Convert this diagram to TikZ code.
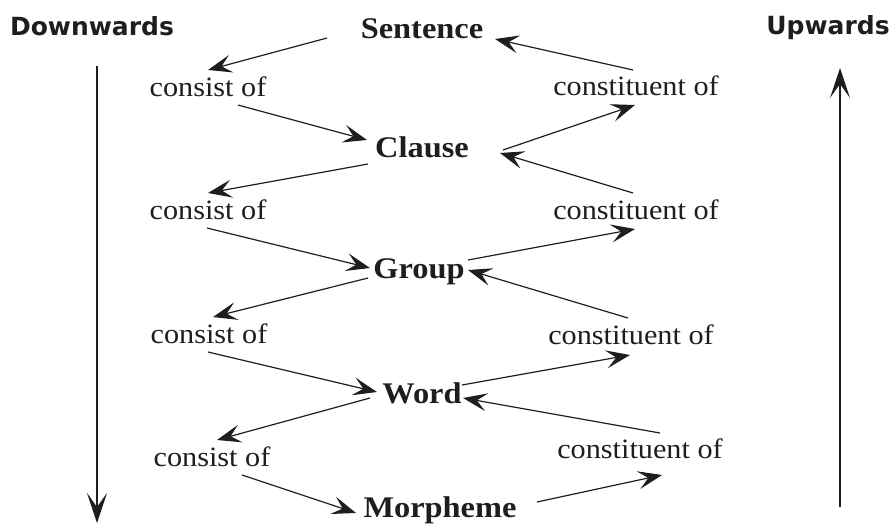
\documentclass[tikz,border=0pt]{standalone}
\usepackage{fontspec}
\usetikzlibrary{arrows.meta}
\newfontfamily\lvlfont[FakeStretch=1.08]{Liberation Serif}
\newfontfamily\dirfont{DejaVu Sans}
\definecolor{ink}{HTML}{1E1E1E}
\tikzset{
  lvl/.style={font=\lvlfont\bfseries\fontsize{30}{36}\selectfont, inner sep=0pt, anchor=base, text=ink},
  rel/.style={font=\lvlfont\fontsize{28}{34}\selectfont, inner sep=0pt, anchor=base, text=ink},
  dirlbl/.style={font=\dirfont\bfseries\fontsize{25}{30}\selectfont, inner sep=0pt, anchor=base, text=ink},
  arr/.style={draw=ink, line width=1.2pt, -{Stealth[length=24pt,width=18pt,inset=10pt]}},
  vert/.style={draw=ink, line width=1.3pt, -{Stealth[length=30pt,width=20pt,inset=14pt]}}
}
\begin{document}
\begin{tikzpicture}[x=1pt,y=-1pt]
\useasboundingbox (0,0) rectangle (893,528);
% direction labels
\node[dirlbl] (D) at (92,35) {Downwards};
\node[dirlbl] (U) at (828,34) {Upwards};
% levels
\node[lvl] (S) at (422,38) {Sentence};
\node[lvl] (C) at (422,157) {Clause};
\node[lvl] (G) at (419,278) {Group};
\node[lvl] (W) at (422,403) {Word};
\node[lvl] (M) at (440,517) {Morpheme};
% consist of
\node[rel] (c1) at (208,96) {consist of};
\node[rel] (c2) at (208,219) {consist of};
\node[rel] (c3) at (209,343) {consist of};
\node[rel] (c4) at (212,466) {consist of};
% constituent of
\node[rel] (k1) at (636,95) {constituent of};
\node[rel] (k2) at (636,219) {constituent of};
\node[rel] (k3) at (631,344) {constituent of};
\node[rel] (k4) at (640,458) {constituent of};
% vertical arrows
\coordinate (dEnd) at (97,523);
\coordinate (uStart) at (840,507);
\draw[vert] ([shift={(5,31)}]D.base) -- (dEnd);
\draw[vert] (uStart) -- ([shift={(12,34)}]U.base);
% downward (left) arrows
\draw[arr] ([shift={(-95,0)}]S.base) -- ([shift={(0,-26)}]c1.base);
\draw[arr] ([shift={(30,9)}]c1.base) -- ([shift={(-55,-17)}]C.base);
\draw[arr] ([shift={(-54,7)}]C.base) -- ([shift={(0,-26)}]c2.base);
\draw[arr] ([shift={(-1,9)}]c2.base) -- ([shift={(-49,-10)}]G.base);
\draw[arr] ([shift={(-51,0)}]G.base) -- ([shift={(4,-26)}]c3.base);
\draw[arr] ([shift={(-1,9)}]c3.base) -- ([shift={(-45,-11)}]W.base);
\draw[arr] ([shift={(-52,-5)}]W.base) -- ([shift={(5,-26)}]c4.base);
\draw[arr] ([shift={(30,9)}]c4.base) -- ([shift={(-84,-4)}]M.base);
% upward (right) arrows
\draw[arr] ([shift={(-3,-25)}]k1.base) -- ([shift={(73,1)}]S.base);
\draw[arr] ([shift={(81,-7)}]C.base) -- ([shift={(-1,10)}]k1.base);
\draw[arr] ([shift={(-3,-26)}]k2.base) -- ([shift={(78,-4)}]C.base);
\draw[arr] ([shift={(49,-18)}]G.base) -- ([shift={(-1,10)}]k2.base);
\draw[arr] ([shift={(-3,-26)}]k3.base) -- ([shift={(49,-8)}]G.base);
\draw[arr] ([shift={(40,-18)}]W.base) -- ([shift={(-1,11)}]k3.base);
\draw[arr] ([shift={(20,-25)}]k4.base) -- ([shift={(41,-5)}]W.base);
\draw[arr] ([shift={(97,-15)}]M.base) -- ([shift={(22,17)}]k4.base);
\end{tikzpicture}
\end{document}
